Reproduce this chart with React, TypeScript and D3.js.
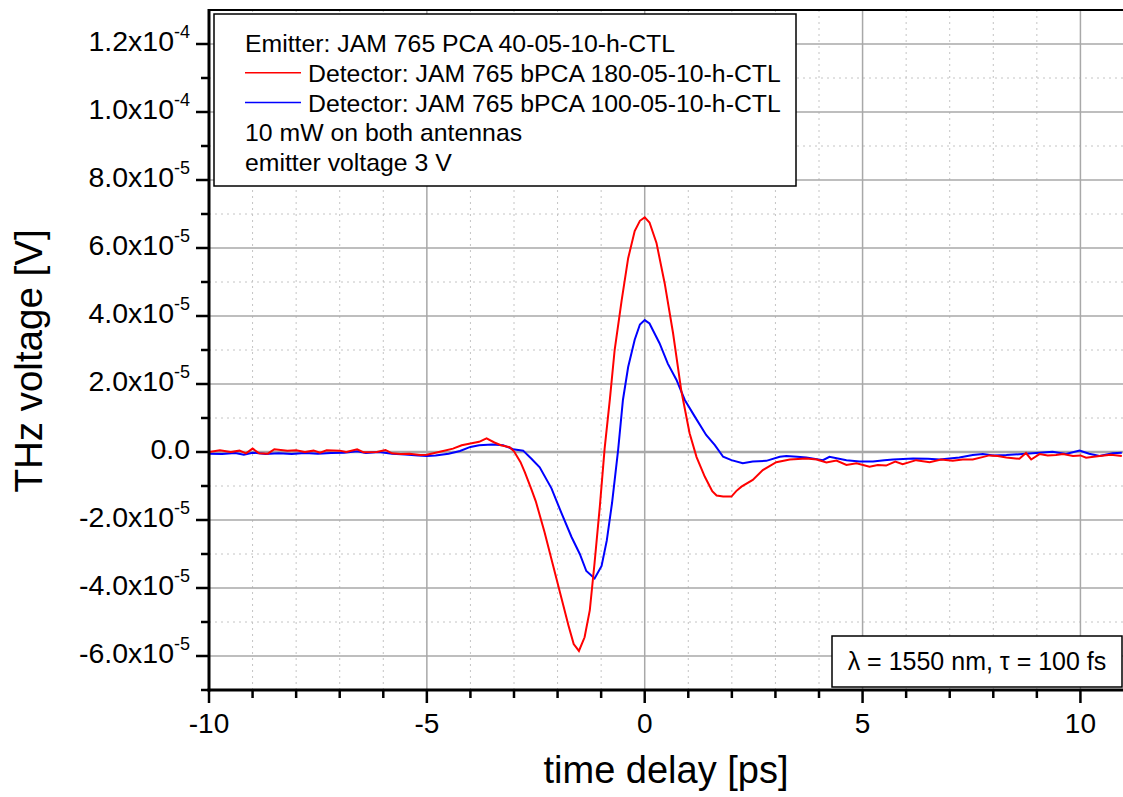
import React from "react";
import * as d3 from "d3";

// time delay [ps] and THz voltage in units of 1e-5 V
const redTime = [
  -10.0, -9.75, -9.5, -9.3, -9.15, -9.0, -8.85, -8.65, -8.5, -8.2, -8.0, -7.8, -7.6, -7.45, -7.3, -7.0,
  -6.85, -6.6, -6.45, -6.15, -5.95, -5.8, -5.6, -5.4, -5.15, -5.0, -4.7, -4.4, -4.2, -4.0, -3.8, -3.63,
  -3.45, -3.3, -3.1, -3.0, -2.85, -2.75, -2.6, -2.5, -2.3, -2.1, -1.9, -1.75, -1.63, -1.51, -1.38, -1.26,
  -1.15, -1.03, -0.92, -0.8, -0.69, -0.53, -0.38, -0.23, -0.11, 0.0, 0.11, 0.27, 0.46, 0.65, 0.84, 1.03,
  1.19, 1.38, 1.55, 1.65, 1.8, 1.99, 2.1, 2.22, 2.48, 2.71, 3.02, 3.33, 3.71, 3.95, 4.17, 4.4, 4.63,
  4.86, 5.16, 5.35, 5.54, 5.75, 5.92, 6.23, 6.54, 6.8, 7.07, 7.3, 7.53, 7.75, 7.91, 8.1, 8.3, 8.6, 8.75,
  8.87, 9.06, 9.25, 9.44, 9.6, 9.83, 10.0, 10.13, 10.44, 10.7, 10.95,
];
const redVolt = [
  0.0, 0.05, 0.0, 0.04, -0.04, 0.1, -0.04, -0.05, 0.08, 0.04, 0.05, 0.0, 0.04, -0.02, 0.05, 0.04,
  0.0, 0.08, -0.01, 0.0, 0.06, -0.04, -0.06, -0.05, -0.09, -0.08, 0.01, 0.1, 0.2, 0.25, 0.3, 0.4,
  0.28, 0.2, 0.14, 0.02, -0.3, -0.6, -1.1, -1.45, -2.35, -3.35, -4.35, -5.1, -5.65, -5.85, -5.45, -4.65,
  -3.25, -1.6, 0.1, 1.55, 3.0, 4.45, 5.7, 6.5, 6.8, 6.9, 6.75, 6.15, 4.95, 3.5, 1.8, 0.55,
  -0.15, -0.73, -1.15, -1.28, -1.31, -1.31, -1.15, -1.02, -0.82, -0.53, -0.3, -0.22, -0.19, -0.22, -0.31, -0.25, -0.38,
  -0.33, -0.43, -0.38, -0.4, -0.28, -0.36, -0.24, -0.3, -0.22, -0.26, -0.22, -0.22, -0.15, -0.1, -0.12, -0.16, -0.2, -0.03,
  -0.22, -0.06, -0.1, -0.09, -0.06, -0.12, -0.1, -0.17, -0.12, -0.08, -0.12,
];

const blueTime = [
  -10.0, -9.7, -9.4, -9.2, -9.0, -8.7, -8.4, -8.1, -7.8, -7.5, -7.2, -6.9, -6.6, -6.4, -6.1, -5.8,
  -5.5, -5.2, -5.0, -4.8, -4.5, -4.24, -4.0, -3.8, -3.5, -3.25, -3.02, -2.79, -2.6, -2.41, -2.14, -1.91,
  -1.68, -1.49, -1.34, -1.15, -0.99, -0.87, -0.75, -0.61, -0.5, -0.38, -0.23, -0.11, 0.0, 0.11, 0.34,
  0.53, 0.73, 0.92, 1.15, 1.41, 1.61, 1.8, 1.99, 2.25, 2.48, 2.79, 3.1, 3.25, 3.5, 3.71, 4.09, 4.24,
  4.63, 4.93, 5.24, 5.5, 5.7, 6.16, 6.5, 6.77, 7.22, 7.53, 7.76, 8.0, 8.3, 8.67, 9.06, 9.36, 9.67,
  9.98, 10.2, 10.44, 10.74, 10.95,
];
const blueVolt = [
  -0.05, -0.06, -0.03, -0.08, -0.02, -0.06, -0.04, -0.06, -0.03, -0.05, -0.03, -0.02, 0.02, -0.03, 0.0, -0.05,
  -0.07, -0.1, -0.12, -0.1, -0.05, 0.03, 0.15, 0.2, 0.22, 0.2, 0.08, 0.04, -0.2, -0.45, -1.07, -1.8,
  -2.5, -3.0, -3.5, -3.72, -3.35, -2.6, -1.5, 0.06, 1.53, 2.5, 3.3, 3.75, 3.88, 3.78, 3.2,
  2.6, 2.12, 1.53, 1.04, 0.5, 0.2, -0.14, -0.24, -0.33, -0.28, -0.26, -0.14, -0.12, -0.14, -0.16, -0.24, -0.14,
  -0.24, -0.28, -0.28, -0.24, -0.22, -0.19, -0.2, -0.22, -0.16, -0.09, -0.06, -0.1, -0.09, -0.06, -0.02, 0.01, -0.06,
  0.04, -0.05, -0.12, -0.04, -0.02,
];

const xMajor = [-10, -5, 0, 5, 10];
const xMinor = [-9, -8, -7, -6, -4, -3, -2, -1, 1, 2, 3, 4, 6, 7, 8, 9];
const yMajor = [-6e-5, -4e-5, -2e-5, 0, 2e-5, 4e-5, 6e-5, 8e-5, 1e-4, 1.2e-4];
const yMinor = [-7e-5, -5e-5, -3e-5, -1e-5, 1e-5, 3e-5, 5e-5, 7e-5, 9e-5, 1.1e-4];

const legendLines = [
  "Emitter: JAM 765 PCA 40-05-10-h-CTL",
  "Detector: JAM 765 bPCA 180-05-10-h-CTL",
  "Detector: JAM 765 bPCA 100-05-10-h-CTL",
  "10 mW on both antennas",
  "emitter voltage 3 V",
];
const legendColors = [null, "#ff0000", "#0000ff", null, null];

const FONT = "'Liberation Sans', Arial, sans-serif";

function sciLabel(v: number) {
  if (v === 0) return { m: "0.0", e: null };
  const e = Math.floor(Math.log10(Math.abs(v)) + 1e-9);
  const m = (v / Math.pow(10, e)).toFixed(1);
  return { m: m + "x10", e: String(e) };
}

export default function App() {
  const W = 1123, H = 797;
  const left = 209, right = 1124, top = 10, bottom = 690;

  const x = d3.scaleLinear().domain([-10, 11]).range([left, right]);
  const y = d3.scaleLinear().domain([-7e-5, 1.3e-4]).range([bottom, top]);

  const line = d3
    .line<[number, number]>()
    .x((d) => x(d[0]))
    .y((d) => y(d[1] * 1e-5));

  const redPts = redTime.map((t, i) => [t, redVolt[i]] as [number, number]);
  const bluePts = blueTime.map((t, i) => [t, blueVolt[i]] as [number, number]);

  return (
    <svg width={W} height={H} style={{ position: "absolute", left: 0, top: 0, background: "#fff" }} fontFamily={FONT}>
      <defs>
        <clipPath id="plot">
          <rect x={left} y={top} width={right - left} height={bottom - top} />
        </clipPath>
      </defs>

      {/* grid */}
      {xMinor.map((v) => (
        <line key={"xm" + v} x1={x(v)} x2={x(v)} y1={top} y2={bottom} stroke="#c4c4c4" strokeWidth={1} strokeDasharray="2,4" />
      ))}
      {yMinor.map((v) => (
        <line key={"ym" + v} x1={left} x2={right} y1={y(v)} y2={y(v)} stroke="#c4c4c4" strokeWidth={1} strokeDasharray="2,4" />
      ))}
      {xMajor.map((v) => (
        <line key={"xM" + v} x1={x(v)} x2={x(v)} y1={top} y2={bottom} stroke="#a8a8a8" strokeWidth={1.5} />
      ))}
      {yMajor.map((v) => (
        <line key={"yM" + v} x1={left} x2={right} y1={y(v)} y2={y(v)} stroke="#a8a8a8" strokeWidth={v === 0 ? 2.5 : 1.5} />
      ))}

      {/* data */}
      <g clipPath="url(#plot)">
        <path d={line(bluePts) || ""} fill="none" stroke="#0000ff" strokeWidth={2} />
        <path d={line(redPts) || ""} fill="none" stroke="#ff0000" strokeWidth={2} />
      </g>

      {/* frame */}
      <line x1={left} x2={W} y1={top} y2={top} stroke="#000" strokeWidth={2} />
      <line x1={left} x2={left} y1={top - 1} y2={bottom + 1.5} stroke="#000" strokeWidth={3} />
      <line x1={left - 1.5} x2={W} y1={bottom} y2={bottom} stroke="#000" strokeWidth={3} />

      {/* y ticks */}
      {yMajor.map((v) => {
        const l = sciLabel(v);
        return (
          <g key={"yt" + v}>
            <line x1={left - 13} x2={left} y1={y(v)} y2={y(v)} stroke="#000" strokeWidth={2.5} />
            <text x={190} y={y(v) + 7} textAnchor="end" fontSize={28.5} fill="#000">
              {l.m}
              {l.e && (
                <tspan fontSize={18} dy={-13}>
                  {l.e}
                </tspan>
              )}
            </text>
          </g>
        );
      })}
      {yMinor.map((v) => (
        <line key={"ytm" + v} x1={left - 8} x2={left} y1={y(v)} y2={y(v)} stroke="#000" strokeWidth={2.5} />
      ))}

      {/* x ticks */}
      {xMajor.map((v) => (
        <g key={"xt" + v}>
          <line x1={x(v)} x2={x(v)} y1={bottom} y2={bottom + 13} stroke="#000" strokeWidth={2.5} />
          <text x={x(v)} y={733} textAnchor="middle" fontSize={28} fill="#000">
            {v}
          </text>
        </g>
      ))}
      {xMinor.map((v) => (
        <line key={"xtm" + v} x1={x(v)} x2={x(v)} y1={bottom} y2={bottom + 8} stroke="#000" strokeWidth={2.5} />
      ))}

      {/* axis titles */}
      <text x={666} y={783} textAnchor="middle" fontSize={38} fill="#000">
        time delay [ps]
      </text>
      <text transform={`translate(42,361) rotate(-90)`} textAnchor="middle" fontSize={38.5} fill="#000">
        THz voltage [V]
      </text>

      {/* legend */}
      <rect x={214} y={14} width={582} height={172} fill="#fff" stroke="#000" strokeWidth={1.5} />
      {legendLines.map((s, i) => {
        const cy = 43 + i * 29.8;
        const c = legendColors[i];
        return (
          <g key={"lg" + i}>
            {c && <line x1={245} x2={301} y1={cy} y2={cy} stroke={c} strokeWidth={1.5} />}
            <text x={c ? 308 : 245} y={cy + 9} fontSize={24.8} fill="#000">
              {s}
            </text>
          </g>
        );
      })}

      {/* info box */}
      <rect x={832} y={636} width={290} height={51} fill="#fff" stroke="#000" strokeWidth={1.5} />
      <text x={977} y={670} textAnchor="middle" fontSize={25} fill="#000">
        λ = 1550 nm, τ = 100 fs
      </text>
    </svg>
  );
}
